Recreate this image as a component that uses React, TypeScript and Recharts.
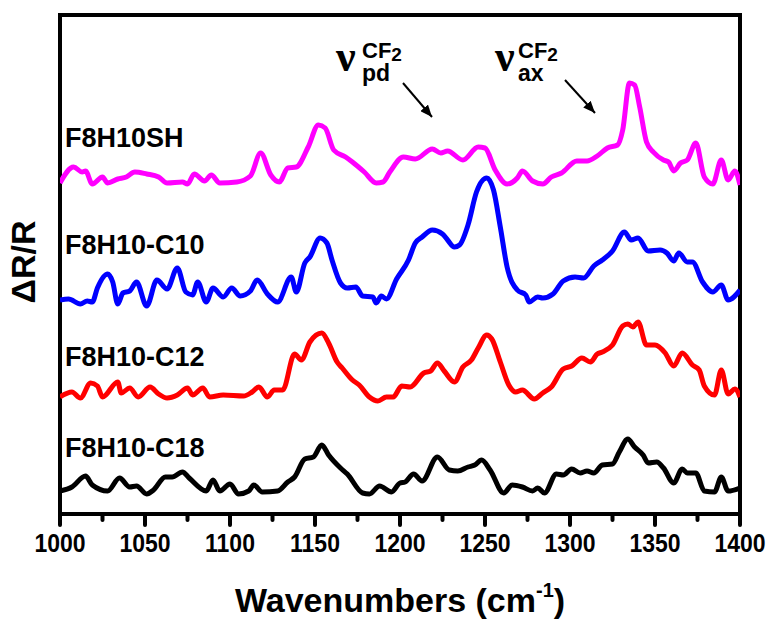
import { LineChart, Line, XAxis, YAxis, ReferenceArea } from "recharts";

// wavenumbers (cm-1) and ΔR/R (offset, a.u.) for each spectrum
const shW = [1000,1008,1013,1015,1019,1025,1028,1034,1039,1044,1051,1058,1063,1072,1075,1079,1085,1089,1094,1104,1112,1118,1124,1129,1134,1139,1146,1152,1156,1161,1168,1172,1179,1186,1190,1194,1202,1209,1219,1224,1228,1237,1246,1250,1256,1263,1269,1272,1278,1284,1289,1295,1304,1310,1316,1322,1328,1331,1335,1338,1341,1345,1349,1355,1358,1361,1365,1369,1374,1379,1384,1389,1393,1397,1400];
const shV = [33.1,34.7,34.2,34.3,33.0,33.7,33.1,33.5,33.7,34.2,34.0,33.7,33.1,33.2,33.0,34.0,33.3,33.9,33.1,33.2,33.8,36.1,33.9,33.2,34.6,34.7,36.7,38.9,38.6,36.4,35.7,35.2,34.2,33.1,33.2,34.2,35.7,35.5,36.5,36.1,36.3,35.4,36.7,36.6,34.4,33.0,33.6,34.3,33.3,33.0,33.7,34.1,35.3,35.3,35.8,36.6,36.9,38.4,43.1,42.9,40.7,37.2,36.2,35.4,35.2,34.3,35.1,35.4,37.1,33.7,33.0,35.4,33.4,34.3,32.9];

const c10W = [1000,1005,1012,1016,1019,1022,1028,1031,1034,1037,1041,1045,1051,1057,1063,1069,1074,1078,1081,1086,1090,1096,1101,1106,1112,1116,1122,1128,1136,1139,1144,1147,1153,1157,1160,1165,1169,1174,1178,1184,1186,1189,1192,1198,1205,1209,1213,1219,1225,1228,1232,1235,1240,1245,1251,1255,1259,1263,1269,1274,1276,1281,1284,1290,1296,1303,1308,1314,1319,1325,1332,1336,1340,1346,1353,1357,1361,1364,1369,1372,1378,1384,1389,1393,1400];
const c10V = [21.4,21.5,21.0,21.3,21.2,22.6,24.0,23.2,21.0,22.1,22.3,23.2,20.8,23.4,22.5,24.6,22.2,21.9,23.2,21.2,22.6,21.7,22.6,21.8,22.3,23.4,22.0,21.2,23.7,22.2,25.1,25.7,27.6,27.1,25.4,23.1,22.6,22.7,21.8,21.7,21.1,21.8,21.5,23.5,25.4,27.1,27.7,28.4,28.0,27.4,26.7,26.9,28.9,32.2,33.6,32.4,28.7,24.7,22.4,21.9,21.2,21.7,21.6,22.0,23.3,23.7,23.6,24.8,25.4,26.3,28.2,27.4,27.6,26.3,26.4,26.1,25.3,26.1,25.2,25.2,23.2,22.2,22.9,21.4,22.4];

const c12W = [1000,1007,1012,1018,1022,1025,1034,1036,1041,1046,1053,1058,1063,1069,1075,1078,1084,1088,1096,1108,1113,1117,1122,1126,1131,1138,1142,1147,1154,1158,1163,1166,1172,1176,1182,1187,1192,1196,1201,1206,1214,1218,1222,1226,1232,1237,1242,1246,1251,1254,1259,1264,1268,1272,1279,1284,1289,1296,1301,1307,1312,1316,1319,1325,1331,1334,1337,1340,1345,1350,1356,1361,1366,1372,1376,1379,1385,1389,1393,1397,1400];
const c12V = [11.7,12.2,11.6,13.1,12.8,11.7,13.2,12.1,12.6,11.7,12.7,12.0,11.6,11.9,12.6,11.9,12.6,11.7,11.9,11.8,12.2,12.7,11.7,12.4,12.4,16.0,15.4,17.2,18.1,17.1,15.2,14.6,13.4,12.9,11.7,11.3,11.7,11.7,12.8,12.7,14.1,14.3,15.1,14.3,13.2,14.7,15.4,16.6,17.9,17.5,15.2,12.9,12.2,12.4,11.5,12.1,12.7,14.5,14.8,15.6,15.2,16.0,16.2,16.9,18.8,19.0,18.7,19.2,16.9,16.9,16.1,14.8,16.1,14.9,14.4,12.8,11.9,14.4,12.0,12.5,11.7];

const c18W = [1000,1007,1015,1019,1028,1035,1041,1045,1051,1055,1062,1066,1072,1076,1086,1090,1094,1100,1105,1111,1114,1119,1128,1134,1138,1144,1149,1154,1158,1165,1169,1178,1182,1188,1195,1200,1203,1208,1213,1222,1229,1234,1240,1244,1248,1253,1261,1266,1272,1278,1281,1285,1292,1296,1301,1306,1310,1314,1319,1325,1329,1334,1338,1343,1346,1351,1355,1361,1366,1369,1374,1379,1385,1389,1393,1400];
const c18V = [2.3,2.7,3.8,2.9,2.3,3.6,2.7,2.8,2.0,2.4,3.7,3.7,4.2,3.6,2.3,3.4,2.3,3.0,2.0,2.3,2.9,2.2,2.3,3.2,3.7,5.5,5.7,6.9,5.9,4.6,4.0,2.1,2.0,2.8,2.2,3.1,3.2,4.0,3.3,5.7,4.4,4.3,4.7,4.9,5.4,4.4,2.1,2.9,2.7,2.3,2.6,2.1,4.0,3.9,4.5,4.1,4.3,4.1,4.9,5.0,6.2,7.5,6.7,5.9,5.1,5.2,4.6,3.1,4.5,4.1,4.1,2.3,2.2,3.7,2.3,2.6];

const xTicks = [1000,1025,1050,1075,1100,1125,1150,1175,1200,1225,1250,1275,1300,1325,1350,1375,1400];

const toRows = (w: number[], v: number[]) => w.map((x, i) => ({ w: x, v: v[i] }));

const series = [
  { name: "F8H10SH", color: "#FF00FF", data: toRows(shW, shV) },
  { name: "F8H10-C10", color: "#0000FF", data: toRows(c10W, c10V) },
  { name: "F8H10-C12", color: "#FF0000", data: toRows(c12W, c12V) },
  { name: "F8H10-C18", color: "#000000", data: toRows(c18W, c18V) },
];

const FONT = "'Liberation Sans', Arial, sans-serif";
const GREEK = "'Liberation Serif', 'Times New Roman', serif";

const Tick = (props: any) => {
  const { x, y, payload } = props;
  const major = payload.value % 50 === 0;
  return (
    <g>
      <line x1={x} x2={x} y1={y} y2={y + (major ? 11 : 6)} stroke="#000" strokeWidth={4} strokeLinecap="round" />
      {major && (
        <text
          transform={`translate(${x},${y + 38}) scale(0.92,1)`}
          textAnchor="middle"
          fontFamily={FONT}
          fontWeight="bold"
          fontSize={25}
          fill="#000"
        >
          {payload.value}
        </text>
      )}
    </g>
  );
};

export default function App() {
  return (
    <div style={{ position: "absolute", left: 0, top: 0, width: 770, height: 619, background: "#fff" }}>
      <LineChart width={770} height={619} margin={{ top: 15, right: 30, left: 60, bottom: 0 }}>
        <XAxis
          type="number"
          dataKey="w"
          domain={[1000, 1400]}
          ticks={xTicks}
          height={105}
          tickSize={0}
          tickMargin={0}
          tickLine={false}
          tick={<Tick />}
          axisLine={{ stroke: "#000", strokeWidth: 4 }}
          allowDataOverflow
        />
        <YAxis type="number" hide domain={[0, 49.9]} allowDataOverflow />
        {series.map((s) => (
          <Line
            key={s.name}
            data={s.data}
            dataKey="v"
            type="monotone"
            stroke={s.color}
            strokeWidth={5}
            dot={false}
            isAnimationActive={false}
          />
        ))}
        <ReferenceArea x1={1000} x2={1400} y1={0} y2={49.9} fill="none" stroke="#000" strokeWidth={4} ifOverflow="visible" />
      </LineChart>
      <svg width={770} height={619} style={{ position: "absolute", left: 0, top: 0, pointerEvents: "none" }}>
        <defs>
          <marker id="ah" markerUnits="userSpaceOnUse" markerWidth={12} markerHeight={10} refX={12} refY={5} orient="auto">
            <path d="M0,0 L12,5 L0,10 z" fill="#000" />
          </marker>
        </defs>
        <g fontFamily={FONT} fontWeight="bold" fill="#000">
          <text x={65} y={147} fontSize={27}>F8H10SH</text>
          <text x={65} y={254} fontSize={27}>F8H10-C10</text>
          <text x={65} y={366} fontSize={27}>F8H10-C12</text>
          <text x={65} y={457} fontSize={27}>F8H10-C18</text>

          <text x={336} y={71} fontSize={44} fontFamily={GREEK}>ν</text>
          <text x={362} y={58} fontSize={22}>
            CF<tspan dy={3} fontSize={19}>2</tspan>
          </text>
          <text x={362} y={81} fontSize={23}>pd</text>

          <text x={495} y={71} fontSize={44} fontFamily={GREEK}>ν</text>
          <text x={518} y={58} fontSize={22}>
            CF<tspan dy={3} fontSize={19}>2</tspan>
          </text>
          <text x={518} y={81} fontSize={23}>ax</text>

          <text transform="translate(35,262) rotate(-90)" textAnchor="middle" fontSize={34}>ΔR/R</text>
          <text x={400} y={612} textAnchor="middle" fontSize={34}>
            Wavenumbers (cm<tspan dy={-15} fontSize={20}>-1</tspan><tspan dy={15}>)</tspan>
          </text>
        </g>
        <line x1={403} y1={83} x2={432} y2={117} stroke="#000" strokeWidth={2} markerEnd="url(#ah)" />
        <line x1={565} y1={80} x2={595} y2={113} stroke="#000" strokeWidth={2} markerEnd="url(#ah)" />
      </svg>
    </div>
  );
}
